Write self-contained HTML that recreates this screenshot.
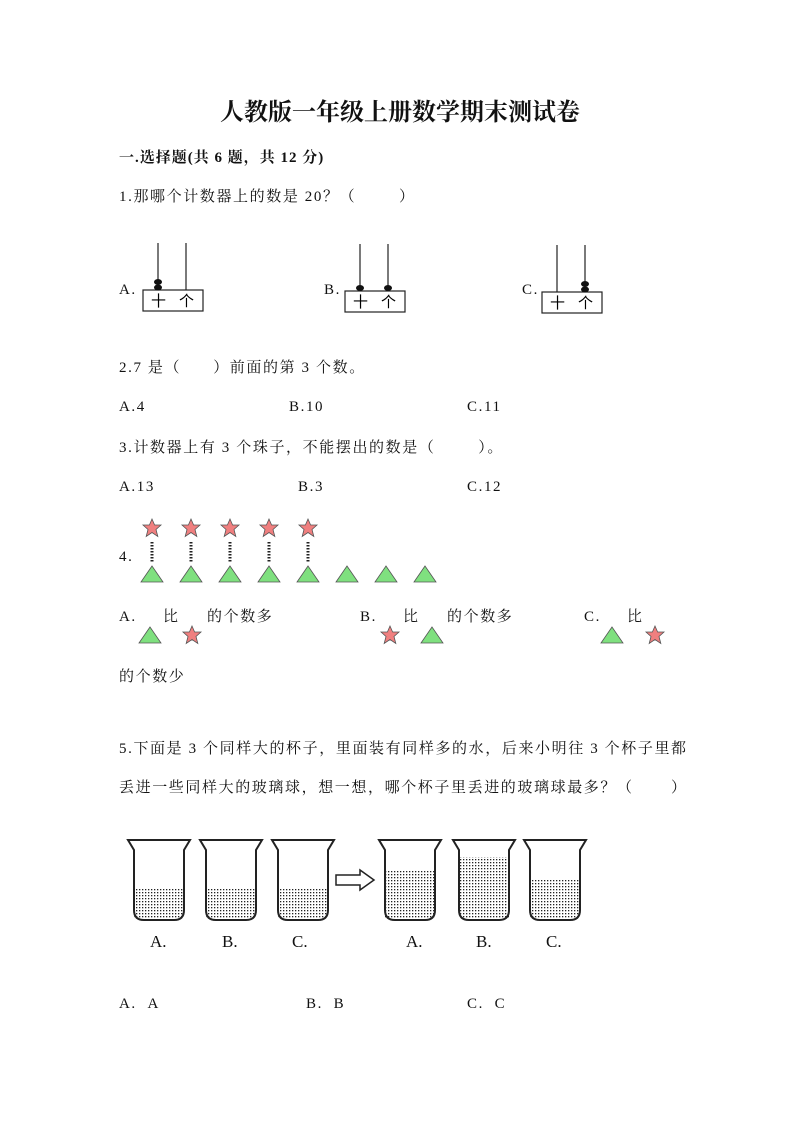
<!DOCTYPE html>
<html><head><meta charset="utf-8">
<style>
body{margin:0;background:#fff}
#p{position:relative;width:800px;height:1131px;overflow:hidden;font-family:"Liberation Serif","Noto Serif CJK SC",serif;color:#111}
.t{position:absolute;font-size:15px;line-height:16px;white-space:nowrap;letter-spacing:1.6px}
svg{position:absolute;left:0;top:0}
</style></head><body><div id="p">
<div class="t" style="left:0;width:800px;text-align:center;top:99px;font-size:24px;line-height:28px;font-weight:bold;letter-spacing:0">人教版一年级上册数学期末测试卷</div>
<div class="t" style="left:119px;top:150px;font-weight:bold;letter-spacing:1px">一.选择题(共 6 题，共 12 分)</div>
<div class="t" style="left:119px;top:189px">1.那哪个计数器上的数是 20？（&nbsp;&nbsp;&nbsp;&nbsp;&nbsp;&nbsp;&nbsp;&nbsp;）</div>
<div class="t" style="left:119px;top:282px">A.</div>
<div class="t" style="left:324px;top:282px">B.</div>
<div class="t" style="left:522px;top:282px">C.</div>
<div class="t" style="left:119px;top:360px">2.7 是（&nbsp;&nbsp;&nbsp;&nbsp;&nbsp;&nbsp;）前面的第 3 个数。</div>
<div class="t" style="left:119px;top:399px">A.4</div>
<div class="t" style="left:289px;top:399px">B.10</div>
<div class="t" style="left:467px;top:399px">C.11</div>
<div class="t" style="left:119px;top:440px">3.计数器上有 3 个珠子，不能摆出的数是（&nbsp;&nbsp;&nbsp;&nbsp;&nbsp;&nbsp;&nbsp;&nbsp;）。</div>
<div class="t" style="left:119px;top:479px">A.13</div>
<div class="t" style="left:298px;top:479px">B.3</div>
<div class="t" style="left:467px;top:479px">C.12</div>
<div class="t" style="left:119px;top:549px">4.</div>
<div class="t" style="left:119px;top:609px">A.</div><div class="t" style="left:163px;top:609px">比</div><div class="t" style="left:207px;top:609px">的个数多</div>
<div class="t" style="left:360px;top:609px">B.</div><div class="t" style="left:403px;top:609px">比</div><div class="t" style="left:447px;top:609px">的个数多</div>
<div class="t" style="left:584px;top:609px">C.</div><div class="t" style="left:627px;top:609px">比</div>
<div class="t" style="left:119px;top:669px">的个数少</div>
<div class="t" style="left:119px;top:741px">5.下面是 3 个同样大的杯子，里面装有同样多的水，后来小明往 3 个杯子里都</div>
<div class="t" style="left:119px;top:780px">丢进一些同样大的玻璃球，想一想，哪个杯子里丢进的玻璃球最多？（&nbsp;&nbsp;&nbsp;&nbsp;&nbsp;&nbsp;&nbsp;）</div>
<div class="t" style="left:119px;top:996px">A.&nbsp;&nbsp;A</div>
<div class="t" style="left:306px;top:996px">B.&nbsp;&nbsp;B</div>
<div class="t" style="left:467px;top:996px">C.&nbsp;&nbsp;C</div>
<svg width="800" height="1131" viewBox="0 0 800 1131">
<defs>
<pattern id="d" width="3" height="3" patternUnits="userSpaceOnUse"><rect x="1" y="1" width="1.3" height="1.3" fill="#222"/></pattern>
<g id="st"><polygon points="0,-9 2.6,-3 9,-3 4,1.5 5.8,8.5 0,4.5 -5.8,8.5 -4,1.5 -9,-3 -2.6,-3" fill="#f07f7f" stroke="#555" stroke-width="0.8"/></g>
<g id="tr"><polygon points="0,-8 11,8 -11,8" fill="#7fe07f" stroke="#555" stroke-width="0.8"/></g>
<g id="ab"><rect x="0" y="0" width="60" height="21" fill="none" stroke="#222" stroke-width="1.2"/>
<text x="8" y="16" font-size="15" font-family="Noto Sans CJK SC,sans-serif">十</text><text x="36" y="16" font-size="15" font-family="Noto Sans CJK SC,sans-serif">个</text></g>
<g id="bk"><path d="M0,0 H62 L56,10 V70 Q56,80 46,80 H16 Q6,80 6,70 V10 Z" fill="none" stroke="#222" stroke-width="2"/></g>
</defs>
<g stroke="#222" stroke-width="1.2">
<line x1="158" y1="243" x2="158" y2="290"/><line x1="186" y1="243" x2="186" y2="290"/>
<line x1="360" y1="244" x2="360" y2="291"/><line x1="388" y1="244" x2="388" y2="291"/>
<line x1="557" y1="245" x2="557" y2="292"/><line x1="585" y1="245" x2="585" y2="292"/>
</g>
<use href="#ab" x="143" y="290"/><use href="#ab" x="345" y="291"/><use href="#ab" x="542" y="292"/>
<g fill="#111"><ellipse cx="158" cy="282" rx="4" ry="3"/><ellipse cx="158" cy="287.5" rx="4" ry="3"/>
<ellipse cx="360" cy="288" rx="4" ry="3"/><ellipse cx="388" cy="288" rx="4" ry="3"/>
<ellipse cx="585" cy="284" rx="4" ry="3"/><ellipse cx="585" cy="289.5" rx="4" ry="3"/></g>
<use href="#st" x="152" y="528"/><use href="#st" x="191" y="528"/><use href="#st" x="230" y="528"/><use href="#st" x="269" y="528"/><use href="#st" x="308" y="528"/>
<g stroke="#222" stroke-width="3" stroke-dasharray="1.5 1.5"><line x1="152" y1="542" x2="152" y2="562"/><line x1="191" y1="542" x2="191" y2="562"/><line x1="230" y1="542" x2="230" y2="562"/><line x1="269" y1="542" x2="269" y2="562"/><line x1="308" y1="542" x2="308" y2="562"/></g>
<use href="#tr" x="152" y="574"/><use href="#tr" x="191" y="574"/><use href="#tr" x="230" y="574"/><use href="#tr" x="269" y="574"/><use href="#tr" x="308" y="574"/><use href="#tr" x="347" y="574"/><use href="#tr" x="386" y="574"/><use href="#tr" x="425" y="574"/>
<use href="#tr" x="150" y="635"/><use href="#st" x="192" y="635"/>
<use href="#st" x="390" y="635"/><use href="#tr" x="432" y="635"/>
<use href="#tr" x="612" y="635"/><use href="#st" x="655" y="635"/>
<rect x="134" y="888" width="50" height="31" fill="url(#d)"/>
<rect x="206" y="888" width="50" height="31" fill="url(#d)"/>
<rect x="278" y="888" width="50" height="31" fill="url(#d)"/>
<rect x="385" y="871" width="50" height="48" fill="url(#d)"/>
<rect x="459" y="857" width="50" height="62" fill="url(#d)"/>
<rect x="530" y="880" width="50" height="39" fill="url(#d)"/>
<use href="#bk" x="128" y="840"/><use href="#bk" x="200" y="840"/><use href="#bk" x="272" y="840"/>
<use href="#bk" x="379" y="840"/><use href="#bk" x="453" y="840"/><use href="#bk" x="524" y="840"/>
<path d="M336,875 H360 V870 L374,880 L360,890 V885 H336 Z" fill="#fff" stroke="#222" stroke-width="1.5"/>
<g font-size="17" font-family="Liberation Serif,serif" fill="#111">
<text x="150" y="947">A.</text><text x="222" y="947">B.</text><text x="292" y="947">C.</text>
<text x="406" y="947">A.</text><text x="476" y="947">B.</text><text x="546" y="947">C.</text></g>
</svg>
</div></body></html>
